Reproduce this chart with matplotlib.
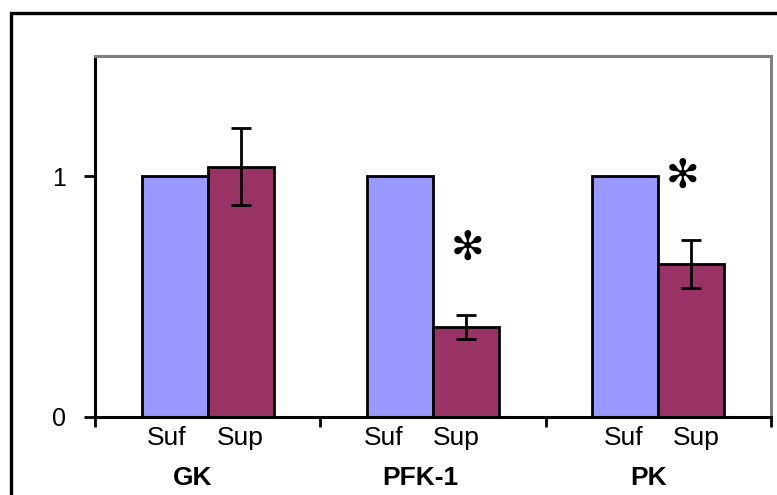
import matplotlib.pyplot as plt
import numpy as np
from matplotlib.patches import Rectangle
from matplotlib.transforms import blended_transform_factory

# -------------------------------------
# Data
# -------------------------------------

ENZYMES = ["GK", "PFK-1", "PK"]
SUF = [1.0, 1.0, 1.0]
SUP = [1.04, 0.375, 0.635]
SUP_ERR = [0.16, 0.05, 0.10]
# significance markers: (enzyme index, height of the star)
STARS = [(1, 0.70), (2, 1.0)]

# -------------------------------------
# Layout (hand placed labels, in pixels of a 225 px wide group)
# -------------------------------------

GROUP_PX = 225.5
SUF_SHIFT = [-8, -16, -2]
SUP_SHIFT = [0, -10, 5]
NAME_SHIFT = [-15, -13, -10]
STAR_SHIFT = [2, -9]

# -------------------------------------
# Plotting
# -------------------------------------

plt.rcParams["font.family"] = ["Liberation Sans", "DejaVu Sans"]

fig = plt.figure(figsize=(7.77, 4.95), dpi=100)
ax = fig.add_axes([95 / 777, 1 - 417 / 495, 676 / 777, 361 / 495])

x = np.arange(len(ENZYMES))
w = 0.293

ax.bar(x - w / 2, SUF, width=w, color="#9999FF", edgecolor="black", linewidth=2.0, zorder=2)
ax.bar(x + w / 2, SUP, width=w, color="#993366", edgecolor="black", linewidth=2.0, zorder=2)
ax.errorbar(x + w / 2, SUP, yerr=SUP_ERR, fmt="none", ecolor="black",
            elinewidth=2.0, capsize=7, capthick=2.0, zorder=3)

for (i, h), s in zip(STARS, STAR_SHIFT):
    ax.text(x[i] + w / 2 + s / GROUP_PX, h, "\u273b", family="DejaVu Sans",
            fontsize=29, ha="center", va="center")

ax.set_xlim(-0.5, len(ENZYMES) - 0.5)
ax.set_ylim(0, 1.5)

# axes styling
for side in ["top", "right"]:
    ax.spines[side].set_color("#808080")
    ax.spines[side].set_linewidth(2.2)
for side in ["left", "bottom"]:
    ax.spines[side].set_color("black")
    ax.spines[side].set_linewidth(2.2)

ax.set_yticks([0, 1])
ax.set_yticklabels(["0", "1"], fontsize=18)
ax.tick_params(axis="y", length=8, width=2.0, pad=13)

ax.set_xticks(np.arange(len(ENZYMES) + 1) - 0.5)
ax.set_xticklabels([])
ax.tick_params(axis="x", which="major", length=7, width=2.0)

trans = blended_transform_factory(ax.transData, ax.transAxes)
for i, name in enumerate(ENZYMES):
    ax.text(x[i] - w / 2 + SUF_SHIFT[i] / GROUP_PX, -0.078, "Suf", transform=trans,
            ha="center", va="baseline", fontsize=19)
    ax.text(x[i] + w / 2 + SUP_SHIFT[i] / GROUP_PX, -0.078, "Sup", transform=trans,
            ha="center", va="baseline", fontsize=19)
    ax.text(x[i] + NAME_SHIFT[i] / GROUP_PX, -0.188, name, transform=trans,
            ha="center", va="baseline", fontsize=19, fontweight="bold")

# outer frame, cut by the image edges
fig.patches.append(Rectangle((10.5 / 777, -0.1), 1.2, 1 - 12.5 / 495 + 0.1,
                             transform=fig.transFigure, fill=False,
                             edgecolor="black", linewidth=2.4))

plt.savefig("out.png", dpi=100)
